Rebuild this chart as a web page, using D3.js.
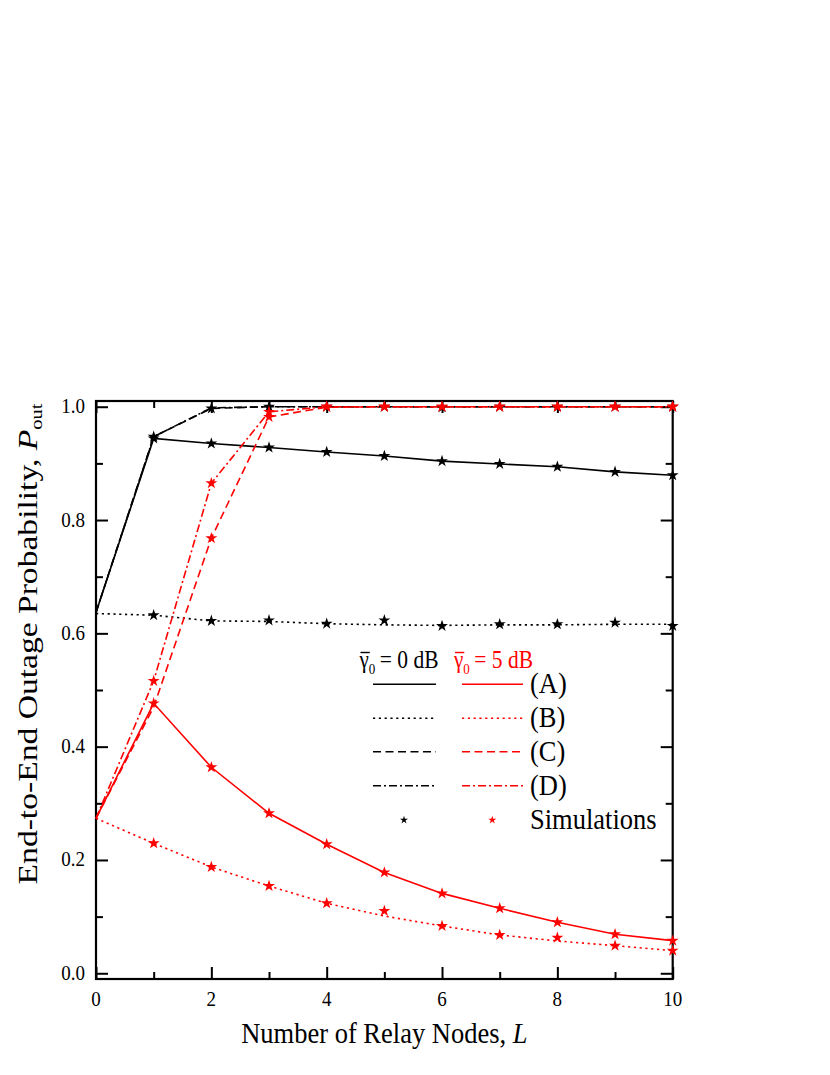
<!DOCTYPE html>
<html><head><meta charset="utf-8">
<script src="https://cdn.jsdelivr.net/npm/d3@7"></script>
<style>html,body{margin:0;padding:0;background:#fff;} svg{display:block;}</style>
</head><body>
<svg id="c" width="830" height="1075"></svg>
<script>
// ---------- data ----------
const relayNodes = [0,1,2,3,4,5,6,7,8,9,10];
const xTickValues = [0,2,4,6,8,10];
const yTickValues = [0.0,0.2,0.4,0.6,0.8,1.0];
// gamma0 = 0 dB (black)
const black_A = [0.637,0.944,0.935,0.928,0.920,0.913,0.904,0.899,0.894,0.885,0.879];
const black_B = [0.635,0.632,0.622,0.621,0.617,0.615,0.614,0.615,0.615,0.616,0.616];
const black_C = [0.637,0.947,0.997,1.000,1.000,1.000,1.000,1.000,1.000,1.000,1.000];
const black_D = [0.637,0.947,0.998,1.000,1.000,1.000,1.000,1.000,1.000,1.000,1.000];
const black_A_sim = [null,0.944,0.935,0.928,0.920,0.913,0.904,0.899,0.894,0.885,0.879];
const black_B_sim = [null,0.632,0.622,0.623,0.617,0.623,0.613,0.616,0.616,0.619,0.613];
const black_C_sim = [null,0.947,0.997,1.000,1.000,1.000,0.999,1.000,1.000,1.000,1.000];
// gamma0 = 5 dB (red)
const red_A = [0.2735,0.4765,0.3636,0.2824,0.2277,0.178,0.141,0.1147,0.090,0.0688,0.0576];
const red_B = [0.2735,0.2294,0.1876,0.154,0.1235,0.101,0.0835,0.0676,0.057,0.0487,0.040];
const red_C = [0.2735,0.470,0.768,0.982,0.999,1.000,1.000,1.000,1.000,1.000,1.000];
const red_D = [0.2735,0.516,0.865,0.991,1.000,1.000,1.000,1.000,1.000,1.000,1.000];
const red_A_sim = [null,0.4765,0.3636,0.2824,0.2277,0.178,0.141,0.1147,0.090,0.0688,0.0576];
const red_B_sim = [null,0.2294,0.1876,0.154,0.1235,0.110,0.0835,0.0676,0.0629,0.0487,0.040];
const red_C_sim = [null,null,0.768,0.982,1.000,1.000,1.000,1.000,1.000,1.000,1.000];
const red_D_sim = [null,0.516,0.865,0.991,1.000,1.000,1.000,1.000,1.000,1.000,1.000];
const legendLabels = ["(A)","(B)","(C)","(D)","Simulations"];
const legendHeaders = ["0 dB","5 dB"];

// ---------- layout ----------
const svg = d3.select("#c");
const L = 96, R = 672.7, T = 401, B = 979;
const x = d3.scaleLinear().domain([0,10]).range([L,R]);
const y = d3.scaleLinear().domain([-0.0101,1.0101]).range([B,T]);
const FONT = "'Liberation Serif','Times New Roman',serif";
const SY = 1.15;
const BLACK = "#000", RED = "#ff0000";
const styles = {A:null, B:"2.2,3.6", C:"8,4.5", D:"8,3,2,3"};

function txt(parent, px, py, anchor, size, sy, fill){
  return parent.append("text")
    .attr("transform", `translate(${px},${py}) scale(1,${sy})`)
    .attr("text-anchor", anchor).attr("font-family", FONT)
    .attr("font-size", size).attr("fill", fill || BLACK);
}

// ---------- axes (frame with inward ticks) ----------
const axG = svg.append("g");
const major = 12, minor = 7;
const xMinor = d3.range(1,10,2), yMinor = d3.range(0.1,1.0,0.2);
const axB = d3.axisBottom(x).tickValues(xTickValues).tickSize(-major).tickFormat("");
const axT = d3.axisTop(x).tickValues(xTickValues).tickSize(-major).tickFormat("");
const axLf = d3.axisLeft(y).tickValues(yTickValues).tickSize(-major).tickFormat("");
const axRt = d3.axisRight(y).tickValues(yTickValues).tickSize(-major).tickFormat("");
const axB2 = d3.axisBottom(x).tickValues(xMinor).tickSize(-minor).tickFormat("");
const axT2 = d3.axisTop(x).tickValues(xMinor).tickSize(-minor).tickFormat("");
const axL2 = d3.axisLeft(y).tickValues(yMinor).tickSize(-minor).tickFormat("");
const axR2 = d3.axisRight(y).tickValues(yMinor).tickSize(-minor).tickFormat("");
[[axB,`0,${B}`],[axB2,`0,${B}`],[axT,`0,${T}`],[axT2,`0,${T}`],
 [axLf,`${L},0`],[axL2,`${L},0`],[axRt,`${R},0`],[axR2,`${R},0`]].forEach(([a,t])=>{
  const g = axG.append("g").attr("transform",`translate(${t})`).call(a);
  g.select(".domain").remove();
  g.selectAll(".tick line").attr("stroke",BLACK).attr("stroke-width",2);
});
axG.append("rect").attr("x",L).attr("y",T).attr("width",R-L).attr("height",B-T)
  .attr("fill","none").attr("stroke",BLACK).attr("stroke-width",2.2);

// tick labels
xTickValues.forEach(v=>{ txt(svg, x(v), 1006, "middle", 19, SY).text(d3.format("d")(v)); });
yTickValues.forEach(v=>{ txt(svg, 85, y(v)+6.5, "end", 19, SY).text(d3.format(".1f")(v)); });

// axis titles
const xt = txt(svg, (L+R)/2, 1043, "middle", 26.5, SY);
xt.append("tspan").text("Number of Relay Nodes, ");
xt.append("tspan").attr("font-style","italic").text("L");

const yt = svg.append("text")
  .attr("transform", `translate(37,644) scale(1,1.2) rotate(-90)`)
  .attr("text-anchor","middle").attr("font-family",FONT).attr("font-size",28).attr("fill",BLACK);
yt.append("tspan").text("End-to-End Outage Probability, ");
yt.append("tspan").attr("font-style","italic").text("P");
yt.append("tspan").attr("font-size",17).attr("dy",5).text("out");

// ---------- series ----------
const line = d3.line().defined(d=>d!=null).x((d,i)=>x(relayNodes[i])).y(d=>y(d));
const series = [
  {v:black_A, c:BLACK, s:"A"},{v:black_B, c:BLACK, s:"B"},{v:black_C, c:BLACK, s:"C"},{v:black_D, c:BLACK, s:"D"},
  {v:red_A, c:RED, s:"A"},{v:red_B, c:RED, s:"B"},{v:red_C, c:RED, s:"C"},{v:red_D, c:RED, s:"D"}
];
const dataG = svg.append("g");
series.forEach(sr=>{
  dataG.append("path").datum(sr.v).attr("d",line).attr("fill","none")
    .attr("stroke",sr.c).attr("stroke-width",1.6)
    .attr("stroke-dasharray",styles[sr.s]);
});
const star = d3.symbol().type(d3.symbolStar).size(44);
const sims = [
  {v:black_A_sim,c:BLACK},{v:black_B_sim,c:BLACK},{v:black_C_sim,c:BLACK},
  {v:red_A_sim,c:RED},{v:red_B_sim,c:RED},{v:red_C_sim,c:RED},{v:red_D_sim,c:RED}
];
sims.forEach(sm=>{
  sm.v.forEach((d,i)=>{
    if(d==null) return;
    dataG.append("path").attr("d",star)
      .attr("transform",`translate(${x(relayNodes[i])},${y(d)})`).attr("fill",sm.c);
  });
});

// ---------- legend ----------
const lg = svg.append("g");
const rows = [684.3, 718.3, 751.7, 785.7, 820];
const cols = [{x0:373,x1:436,c:BLACK,hx:359.5},{x0:462,x1:523,c:RED,hx:454}];
cols.forEach((col,ci)=>{
  // header: gamma-bar_0 = N dB
  const g1 = txt(lg, col.hx, 668, "start", 21, SY, col.c).text("γ");
  const w = g1.node().getComputedTextLength();
  lg.append("line").attr("x1",col.hx+1).attr("x2",col.hx+w+1).attr("y1",652.5).attr("y2",652.5)
    .attr("stroke",col.c).attr("stroke-width",1.4);
  txt(lg, col.hx+w, 674, "start", 13, SY, col.c).text("0");
  txt(lg, col.hx+w+11, 668, "start", 21.5, SY, col.c).text("= " + legendHeaders[ci]);
  ["A","B","C","D"].forEach((s,ri)=>{
    lg.append("line").attr("x1",col.x0).attr("x2",col.x1).attr("y1",rows[ri]).attr("y2",rows[ri])
      .attr("stroke",col.c).attr("stroke-width",1.6).attr("stroke-dasharray",styles[s]);
  });
  lg.append("path").attr("d",d3.symbol().type(d3.symbolStar).size(20))
    .attr("transform",`translate(${ci===0?404:492.3},${rows[4]})`).attr("fill",col.c);
});
legendLabels.forEach((t,i)=>{ txt(lg, 530, rows[i]+9, "start", 26.5, SY).text(t); });
</script>
</body></html>
